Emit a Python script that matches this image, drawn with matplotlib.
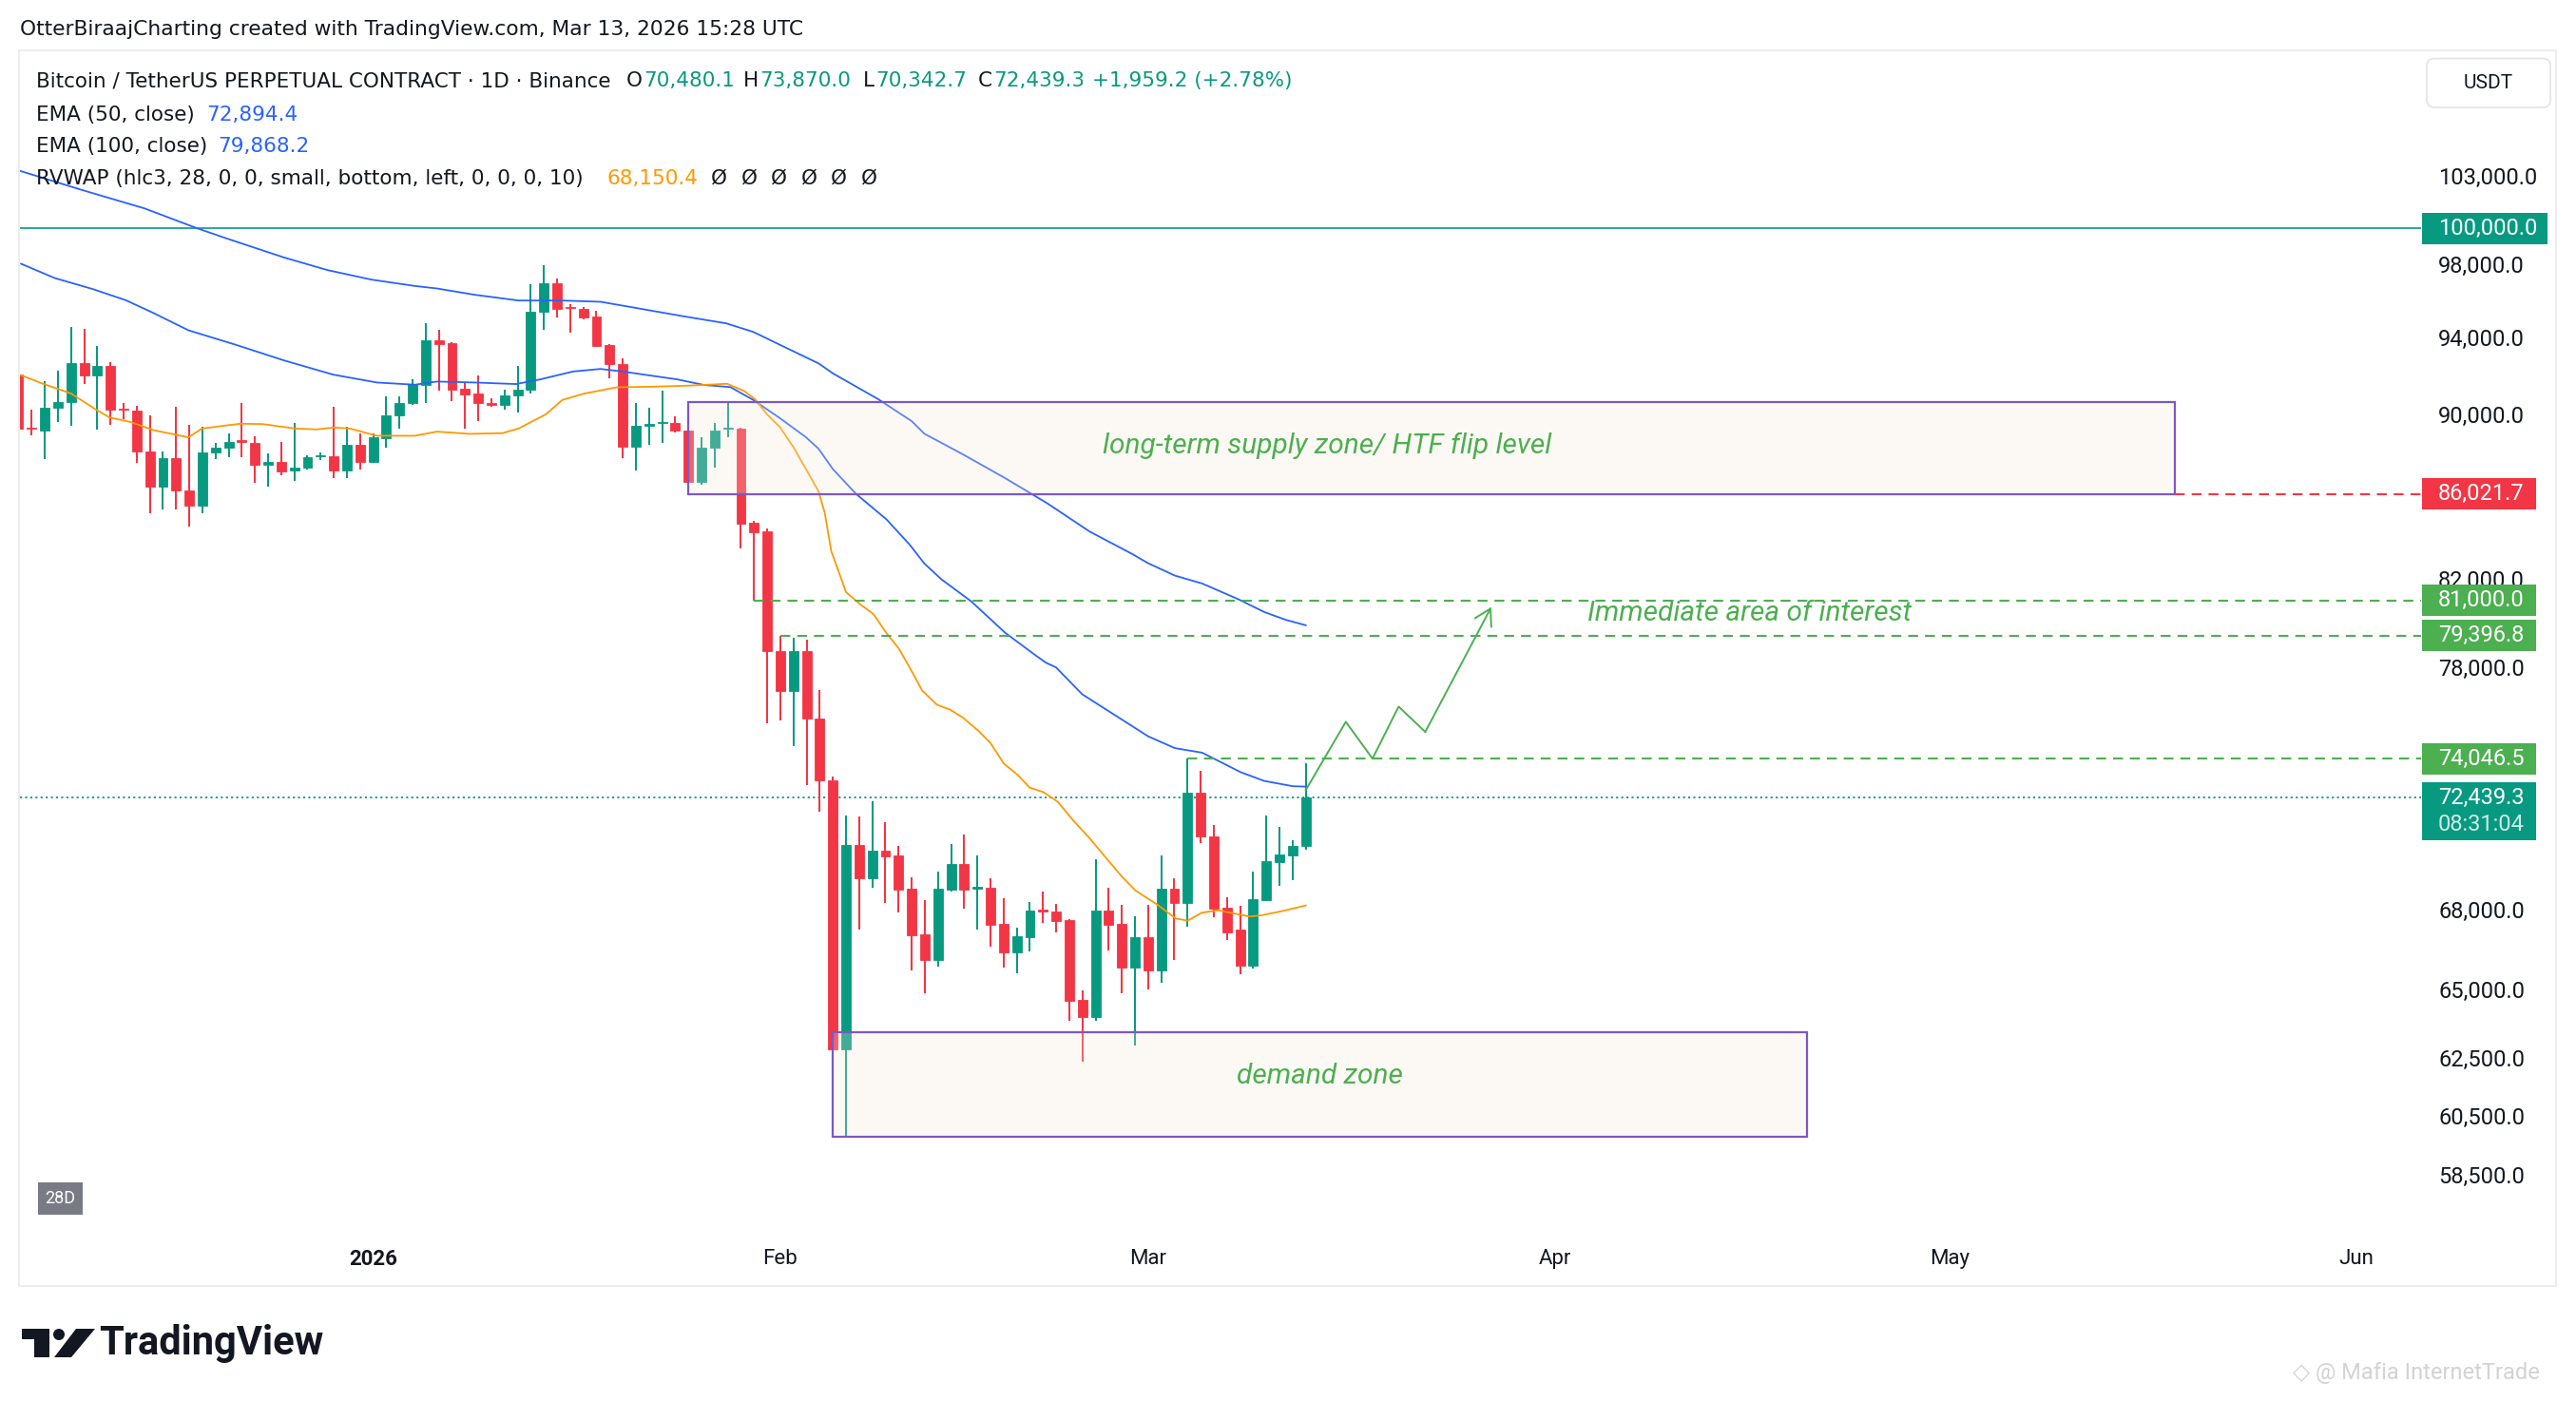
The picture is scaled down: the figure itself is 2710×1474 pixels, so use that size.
import numpy as np
import matplotlib
matplotlib.use("Agg")
import matplotlib.pyplot as plt
from matplotlib.patches import Rectangle, FancyBboxPatch, Polygon, Ellipse
from matplotlib.transforms import blended_transform_factory
from matplotlib.ticker import FixedLocator, NullLocator, FixedFormatter

plt.rcParams['font.family'] = ['Roboto', 'DejaVu Sans']

W, H = 2710, 1474
UP, DOWN = '#089981', '#F23645'
BLUE, ORANGE, GREEN, PURPLE = '#2962FF', '#FF9800', '#4CAF50', '#7E57C2'
TXT = '#131722'

# daily candles, x = days since 2026-01-01
days = np.arange(-27, 72)
opens = [92048, 89316, 89172, 90330, 90623, 92660, 91981, 92494, 90298, 90201,
         88122, 86371, 87807, 86185, 85446, 88059, 88296, 88677, 88566, 87446,
         87618, 87165, 87306, 87870, 87901, 87165, 88471, 87587, 88774, 89927,
         90558, 91488, 93865, 93713, 91308, 91063, 90590, 90460, 90965, 91242,
         95373, 96941, 95648, 95562, 95134, 93595, 92577, 88360, 89412, 89556,
         89556, 89172, 86604, 88296, 89284, 89284, 84655, 84247, 78726, 76940,
         78726, 75776, 73139, 62830, 70512, 69209, 70285, 70096, 68789, 67047,
         66068, 68764, 69758, 68789, 68826, 67433, 66365, 66939, 67980, 67906,
         67590, 64593, 63982, 67943, 67433, 65797, 66927, 65690, 68789, 68248,
         72629, 70854, 68052, 67215, 65867, 68358, 69845, 70096, 70480.1]
highs = [92100, 90249, 91718, 92247, 94556, 94471, 93544, 92710, 90590, 90411,
         89927, 88122, 90379, 89444, 89348, 88566, 89044, 90590, 88885, 88043,
         88614, 89572, 87933, 88090, 90395, 89380, 89044, 89044, 90932, 90932,
         91817, 94776, 94420, 93760, 91636, 91998, 90818, 91275, 92511, 96872,
         97942, 97202, 95785, 95648, 95442, 93650, 92876, 90590, 90346, 91226,
         89895, 89200, 88853, 89572, 90590, 89332, 84730, 84352, 79396.8, 79300,
         79222, 76981, 73310, 71697, 71656, 72278, 71428, 70474, 69234, 68358,
         69470, 70563, 70929, 70096, 69197, 68420, 67288, 68272, 68680, 68199,
         67627, 64940, 69975, 68826, 68162, 67723, 68162, 70096, 69197, 74046.5,
         73533, 71339, 68481, 68150, 69458, 71723, 71262, 70727, 73870.0]
lows = [89200, 88933, 87744, 89604, 89396, 91537, 89204, 89444, 89767, 87540,
        85095, 85262, 85262, 84456, 85095, 87744, 87854, 87854, 86558, 86371,
        86946, 86651, 87212, 87697, 86806, 86806, 87212, 87540, 88328, 89284,
        90500, 90558, 91226, 90655, 89252, 89636, 90362, 90217, 90088, 91046,
        94438, 95100, 94268, 94981, 93500, 91833, 87807, 87196, 88471, 88535,
        89100, 86500, 86480, 87306, 88837, 83400, 81000, 75546, 75680, 74605,
        72949, 71850, 62200, 59800, 67227, 68839, 68235, 67882, 65690, 64848,
        65832, 68690, 68028, 67227, 66580, 65797, 65585, 66401, 67480, 67119,
        63855, 62384, 63855, 66425, 64836, 62969, 64987, 65221, 66068, 67348,
        70601, 67711, 66819, 65561, 65773, 68333, 68912, 69136, 70342.7]
closes = [89284, 89252, 90330, 90623, 92660, 91981, 92494, 90217, 90217, 88122,
          86371, 87807, 86185, 85446, 88075, 88312, 88614, 88598, 87446, 87618,
          87149, 87337, 87854, 87933, 87165, 88471, 87587, 88822, 89960, 90590,
          91537, 93865, 93679, 91275, 91030, 90558, 90460, 90965, 91259, 95373,
          96941, 95562, 95580, 95083, 93578, 92577, 88360, 89412, 89524, 89620,
          89172, 86604, 88328, 89172, 89332, 84608, 84198, 78698, 76940, 78726,
          75749, 73146, 62830, 70512, 69209, 70285, 70071, 68764, 67011, 66068,
          68789, 69758, 68764, 68863, 67409, 66365, 66963, 67943, 67920, 67566,
          64570, 63982, 67943, 67409, 65797, 66927, 65690, 68789, 68248, 72629,
          70854, 68028, 67119, 65867, 68383, 69870, 70134, 70474, 72439.3]

# indicator lines
ema100_x = [-27.0, -22.2, -17.4, -13.4, -11.15, -6.79, -3.46, -0.14, 3.18, 4.85, 7.75,
            11.08, 14.4, 17.31, 19.39, 23.54, 26.87, 28.94, 31.43, 33.93, 35.03,
            38.42, 41.0, 41.97, 44.88, 48.11, 51.34, 54.55, 57.8, 58.96, 61.04,
            63.12, 65.89, 67.83, 69.49, 71.0]
ema100_y = [103330, 102200, 101130, 100000, 99425, 98361, 97658, 97136, 96786, 96650, 96303,
            95992, 95992, 95923, 95666, 95150, 94760, 94301, 93460, 92627, 92100,
            90789, 89655, 89016, 87991, 86809, 85571, 84220, 83154, 82737, 82146,
            81778, 81049, 80472, 80112, 79868.2]
ema50_x = [-26.81, -24.24, -21.33, -18.83, -16.76, -14.06, -10.52, -6.79, -3.05, 0.28,
           3.18, 4.85, 7.75, 10.87, 12.74, 15.23, 17.31, 18.97, 21.46, 23.13, 25.2,
           27.2, 28.94, 31.0, 32.93, 33.9, 35.0, 36.78, 39.07, 40.84, 41.97, 43.26,
           45.53, 48.11, 50.37, 51.21, 51.99, 53.98, 57.03, 59.0, 61.04, 63.12,
           66.03, 67.83, 70.04, 71.0]
ema50_y = [98012, 97220, 96613, 96009, 95327, 94387, 93630, 92792, 92048, 91638,
           91524, 91688, 91638, 91557, 91803, 92212, 92344, 92212, 91966, 91803, 91508,
           91400, 90737, 89790, 88852, 88270, 87250, 86025, 84810, 83602, 82706, 81975,
           80957, 79533, 78546, 78197, 77985, 76808, 75706, 75000, 74500, 74308,
           73497, 73131, 72909, 72894.4]
rvwap_x = [-26.81, -25.07, -22.99, -21.12, -20.08, -18.42, -16.76, -14.06, -13.02, -10.11,
           -8.45, -5.96, -4.29, -3.05, -1.8, 0.28, 3.18, 4.85, 7.34, 9.83, 11.08, 13.16,
           14.4, 16.06, 18.56, 21.46, 23.96, 26.95, 28.25, 29.05, 30.02, 30.99, 31.96,
           32.93, 33.9, 34.38, 34.87, 36.0, 37.13, 38.1, 39.07, 40.03, 40.84, 41.81,
           42.94, 43.91, 44.88, 46.01, 46.98, 48.0, 49.07, 49.98, 51.05, 52.12, 53.33,
           54.55, 55.77, 56.99, 58.05, 59.73, 61.1, 62.01, 63.08, 64.3, 65.51, 66.73,
           67.65, 69.17, 71.0]
rvwap_y = [92016, 91556, 91066, 90249, 89847, 89604, 89204, 88837, 89284, 89524,
           89508, 89284, 89236, 89332, 89284, 88916, 88916, 89124, 89012, 89044, 89284, 90008,
           90737, 91063, 91391, 91424, 91474, 91573, 91196, 90789, 89978, 89333, 88377,
           87278, 86170, 85120, 83303, 81383, 80800, 80369, 79521, 78815, 77983, 76958,
           76349, 76145, 75807, 75268, 74732, 73860, 73378, 72856, 72661, 72272, 71494,
           70791, 70027, 69282, 68724, 68173, 67651, 67567, 67870, 67967, 67846, 67725,
           67773, 67930, 68150.4]

# drawings
level_round = 100000.0
supply_x, supply_y = (24, 137.15), (86021.7, 90640)
demand_x, demand_y = (35, 109.15), (59790, 63430)
ray_levels = [81000.0, 79396.8, 74046.5]
ray_starts = [29, 31, 62]
red_level = 86021.7
path_x = [71.0, 74.05, 76.08, 78.07, 80.1, 85.13]
path_y = [72751, 75620, 74060, 76273, 75190, 80700]

price_ticks = [58500, 60500, 62500, 65000, 68000, 78000, 82000, 90000, 94000, 98000, 103000]
month_ticks = [0, 31, 59, 90, 120, 151]
month_labels = ['2026', 'Feb', 'Mar', 'Apr', 'May', 'Jun']

fig = plt.figure(figsize=(W / 100, H / 100), dpi=100, facecolor='white')

ax_l, ax_r, ax_t, ax_b = 21, 2547, 55, 1300
ax = fig.add_axes([ax_l / W, 1 - ax_b / H, (ax_r - ax_l) / W, (ax_b - ax_t) / H])
ax.set_yscale('log')
ymin, ymax = 56530, 110480
ax.set_ylim(ymin, ymax)
ax.set_xlim(-26.89, 155.91)
for s in ax.spines.values():
    s.set_visible(False)

ax.yaxis.tick_right()
ax.yaxis.set_major_locator(FixedLocator(price_ticks))
ax.yaxis.set_major_formatter(FixedFormatter([f'{p:,.1f}' for p in price_ticks]))
ax.yaxis.set_minor_locator(NullLocator())
ax.tick_params(axis='y', length=0, pad=13, labelsize=17, labelcolor=TXT)
ax.set_xticks(month_ticks, month_labels)
ax.tick_params(axis='x', length=0, pad=10, labelsize=16, labelcolor=TXT)
for lbl in ax.get_xticklabels():
    if lbl.get_text() == '2026':
        lbl.set_fontweight('bold')

# candles
o, hi, lo, c = map(np.array, (opens, highs, lows, closes))
col = np.where(c >= o, UP, DOWN)
ax.vlines(days, lo, hi, colors=col, lw=1.45, zorder=3)
ax.bar(days, np.abs(c - o), bottom=np.minimum(o, c), width=0.72, color=col,
       edgecolor=col, linewidth=0.6, zorder=3.1)

# indicators
ax.plot(ema100_x, ema100_y, color=BLUE, lw=1.3, zorder=3.5)
ax.plot(ema50_x, ema50_y, color=BLUE, lw=1.3, zorder=3.5)
ax.plot(rvwap_x, rvwap_y, color=ORANGE, lw=1.3, zorder=3.5)

# levels
ax.axhline(level_round, color=UP, lw=1.2, zorder=2)
ax.axhline(closes[-1], color=UP, lw=1.3, ls=(0, (1.2, 1.8)), zorder=2)
for lvl, st in zip(ray_levels, ray_starts):
    ax.hlines(lvl, st, 200, colors=GREEN, lw=1.5, linestyles=[(0, (5, 3.5))], zorder=4)
ax.hlines(red_level, supply_x[1], 200, colors=DOWN, lw=1.5, linestyles=[(0, (5, 3.5))], zorder=4)

# zones
for bx, by in ((supply_x, supply_y), (demand_x, demand_y)):
    ax.add_patch(Rectangle((bx[0], by[0]), bx[1] - bx[0], by[1] - by[0],
                           facecolor=(0.96, 0.91, 0.85, 0.25), edgecolor=PURPLE,
                           lw=1.6, zorder=4))
lab = dict(color=GREEN, style='italic', fontsize=21.5, ha='center', va='center', zorder=5)
ax.text(72.6, 88400, 'long-term supply zone/ HTF flip level', **lab)
ax.text(sum(demand_x) / 2, np.sqrt(demand_y[0] * demand_y[1]) * 1.005, 'demand zone', **lab)
ax.text(104.8, 80430, 'Immediate area of interest', **lab)

# projected path
ax.plot(path_x[:-1], path_y[:-1], color=GREEN, lw=1.4, zorder=5)
ax.annotate('', xy=(path_x[-1], path_y[-1]), xytext=(path_x[-2], path_y[-2]),
            arrowprops=dict(arrowstyle='->,head_length=0.6,head_width=0.35', color=GREEN,
                            lw=1.4, shrinkA=0, shrinkB=0, mutation_scale=20), zorder=5)

# price badges on the scale
axw = ax_r - ax_l
k = (ax_b - ax_t) / np.log(ymax / ymin)
tr = blended_transform_factory(ax.transAxes, ax.transData)


def badge(price, label, color, width=120, up=16.5, down=16.5, sub=None):
    top, bot = price * np.exp(up / k), price * np.exp(-down / k)
    ax.add_patch(Rectangle((1 + 1 / axw, bot), width / axw, top - bot, transform=tr,
                           facecolor=color, edgecolor='none', clip_on=False, zorder=20))
    ax.text(1 + 18 / axw, price, label, transform=tr, color='white', fontsize=17,
            va='center', ha='left', clip_on=False, zorder=21)
    if sub:
        ax.text(1 + 18 / axw, price * np.exp(-28.5 / k), sub, transform=tr,
                color='#CDEBE6', fontsize=17, va='center', ha='left', clip_on=False, zorder=21)


badge(level_round, '100,000.0', UP, width=132)
badge(red_level, '86,021.7', DOWN)
for lvl in ray_levels:
    badge(lvl, f'{lvl:,.1f}', GREEN)
badge(closes[-1], f'{closes[-1]:,.1f}', UP, up=16.7, down=44.8, sub='08:31:04')

# overlay in pixel coordinates for header, legend, frame and logo
ov = fig.add_axes([0, 0, 1, 1], zorder=5)
ov.set_xlim(0, W)
ov.set_ylim(H, 0)
ov.axis('off')
ov.patch.set_alpha(0)

ov.add_patch(Rectangle((20, 53), 2669, 1300, fill=False, edgecolor='#EDEDED', lw=1.5))
ov.text(21, 31, 'OtterBiraajCharting created with TradingView.com, Mar 13, 2026 15:28 UTC',
        fontsize=15.7, color=TXT, va='center', family='DejaVu Sans')

ov.add_patch(FancyBboxPatch((2553, 61.5), 130, 51.5, boxstyle='round,pad=0,rounding_size=8',
                            facecolor='white', edgecolor='#E0E3EB', lw=1.2))
ov.text(2618, 87.5, 'USDT', fontsize=15, color=TXT, ha='center', va='center')

lg = dict(fontsize=15.5, va='center', family='DejaVu Sans')
ov.text(37.5, 85, 'Bitcoin / TetherUS PERPETUAL CONTRACT · 1D · Binance', color=TXT, **lg)
for x, letter, val in ((659, 'O', '70,480.1'), (782, 'H', '73,870.0'),
                       (908, 'L', '70,342.7'), (1029, 'C', '72,439.3')):
    t = ov.text(x, 85, letter, color=TXT, **lg)
    ov.annotate(val, xy=(1, 0.5), xycoords=t, xytext=(1, 0), textcoords='offset pixels',
                color=UP, **lg)
ov.text(1149, 85, '+1,959.2 (+2.78%)', color=UP, **lg)
ov.text(37.5, 120.5, 'EMA (50, close)', color=TXT, **lg)
ov.text(217, 120.5, '72,894.4', color=BLUE, **lg)
ov.text(37.5, 154, 'EMA (100, close)', color=TXT, **lg)
ov.text(229.5, 154, '79,868.2', color=BLUE, **lg)
ov.text(37.5, 188, 'RVWAP (hlc3, 28, 0, 0, small, bottom, left, 0, 0, 0, 10)', color=TXT, **lg)
ov.text(638, 188, '68,150.4', color=ORANGE, **lg)
for x in (748, 779.5, 811, 842.5, 874, 905.5):
    ov.text(x, 188, 'Ø', color=TXT, **lg)

ov.add_patch(Rectangle((40, 1244), 47, 34, facecolor='#787B86', edgecolor='none'))
ov.text(63.5, 1261, '28D', color='white', fontsize=13, ha='center', va='center')

# TradingView logo
ov.add_patch(Rectangle((23, 1398), 29, 11, facecolor='#131722', edgecolor='none'))
ov.add_patch(Rectangle((36, 1398), 16, 30, facecolor='#131722', edgecolor='none'))
ov.add_patch(Ellipse((62, 1404), 12, 12, facecolor='#131722', edgecolor='none'))
ov.add_patch(Polygon([(80, 1398), (100, 1398), (75, 1428), (57, 1428)], closed=True,
                     facecolor='#131722', edgecolor='none'))
ov.text(104, 1413, 'TradingView', fontsize=30, fontweight='bold', color='#131722', va='center')

ov.text(2412, 1445, '◇ @ Mafia InternetTrade', fontsize=17, color='#D3D3D3', va='center')

fig.savefig('out.png', dpi=100, facecolor='white')
